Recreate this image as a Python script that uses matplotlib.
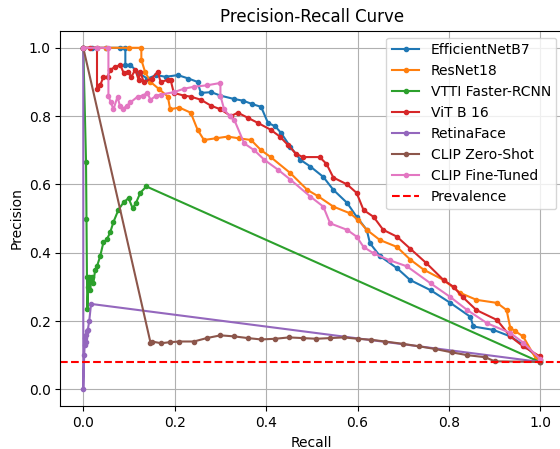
import matplotlib
matplotlib.use("Agg")
import matplotlib.pyplot as plt

# EfficientNetB7
eff_r = [0, 0.02, 0.05, 0.08, 0.092, 0.092, 0.103, 0.12, 0.14, 0.16, 0.18, 0.207, 0.23, 0.25, 0.257,
         0.28, 0.30, 0.33, 0.35, 0.37, 0.389, 0.404, 0.42, 0.433, 0.453, 0.475, 0.497, 0.525, 0.547,
         0.577, 0.598, 0.62, 0.627, 0.649, 0.686, 0.715, 0.76, 0.803, 0.847, 0.853, 0.897, 0.934,
         0.967, 1.0]
eff_p = [1.0, 1.0, 1.0, 1.0, 1.0, 0.95, 0.95, 0.927, 0.91, 0.92, 0.915, 0.92, 0.91, 0.90, 0.868,
         0.87, 0.86, 0.85, 0.845, 0.835, 0.827, 0.78, 0.77, 0.75, 0.71, 0.672, 0.652, 0.622, 0.584,
         0.546, 0.505, 0.467, 0.428, 0.39, 0.355, 0.32, 0.29, 0.253, 0.212, 0.184, 0.174, 0.155,
         0.126, 0.085]

# ResNet18
res_r = [0, 0.05, 0.10, 0.127, 0.127, 0.135, 0.147, 0.165, 0.185, 0.19, 0.21, 0.235, 0.25, 0.264,
         0.29, 0.316, 0.34, 0.367, 0.389, 0.41, 0.453, 0.49, 0.514, 0.547, 0.584, 0.602, 0.62,
         0.649, 0.686, 0.715, 0.745, 0.788, 0.825, 0.86, 0.905, 0.926, 0.934, 0.945, 0.962, 0.99, 1.0]
res_p = [1.0, 1.0, 1.0, 1.0, 0.965, 0.93, 0.90, 0.88, 0.857, 0.82, 0.825, 0.81, 0.76, 0.73,
         0.735, 0.74, 0.735, 0.73, 0.70, 0.68, 0.633, 0.584, 0.565, 0.535, 0.515, 0.495, 0.467,
         0.437, 0.417, 0.38, 0.35, 0.32, 0.282, 0.262, 0.253, 0.232, 0.18, 0.17, 0.155, 0.09, 0.085]

# VTTI Faster-RCNN
vtti_r = [0, 0.006, 0.007, 0.008, 0.009, 0.011, 0.013, 0.015, 0.018, 0.022, 0.026, 0.03, 0.037,
          0.044, 0.052, 0.059, 0.066, 0.077, 0.088, 0.099, 0.108, 0.115, 0.125, 0.138, 1.0]
vtti_p = [1.0, 0.667, 0.50, 0.33, 0.234, 0.30, 0.33, 0.29, 0.33, 0.31, 0.35, 0.36, 0.39,
          0.43, 0.44, 0.46, 0.49, 0.526, 0.547, 0.56, 0.53, 0.545, 0.576, 0.594, 0.079]

# ViT B 16
vit_r = [0, 0.015, 0.03, 0.03, 0.037, 0.044, 0.053, 0.059, 0.07, 0.081, 0.088, 0.097, 0.105, 0.114,
         0.121, 0.125, 0.132, 0.15, 0.163, 0.169, 0.185, 0.191, 0.198, 0.22, 0.235, 0.257, 0.28,
         0.30, 0.323, 0.338, 0.36, 0.382, 0.41, 0.43, 0.448, 0.465, 0.48, 0.517, 0.532, 0.547,
         0.577, 0.598, 0.613, 0.635, 0.656, 0.686, 0.715, 0.75, 0.788, 0.81, 0.83, 0.86, 0.905,
         0.934, 0.962, 0.998]
vit_p = [1.0, 1.0, 1.0, 0.88, 0.89, 0.915, 0.915, 0.936, 0.944, 0.95, 0.927, 0.93, 0.915, 0.936,
         0.906, 0.93, 0.90, 0.91, 0.93, 0.90, 0.906, 0.906, 0.868, 0.86, 0.857, 0.848, 0.83,
         0.82, 0.80, 0.81, 0.795, 0.78, 0.76, 0.74, 0.715, 0.69, 0.68, 0.68, 0.66, 0.62,
         0.60, 0.575, 0.525, 0.505, 0.467, 0.447, 0.412, 0.37, 0.32, 0.30, 0.27, 0.232, 0.203,
         0.155, 0.126, 0.097]

# RetinaFace
ret_r = [0, 0, 0.002, 0.003, 0.004, 0.005, 0.006, 0.008, 0.010, 0.013, 0.017, 1.0]
ret_p = [1.0, 0.0, 0.10, 0.13, 0.15, 0.16, 0.14, 0.17, 0.175, 0.20, 0.25, 0.08]

# CLIP Zero-Shot
zs_r = [0, 0.147, 0.15, 0.17, 0.19, 0.21, 0.242, 0.27, 0.30, 0.33, 0.36, 0.389, 0.42, 0.45, 0.48,
        0.51, 0.54, 0.57, 0.60, 0.63, 0.66, 0.70, 0.734, 0.77, 0.807, 0.84, 0.879, 0.90, 1.0]
zs_p = [1.0, 0.137, 0.14, 0.135, 0.138, 0.14, 0.14, 0.15, 0.158, 0.155, 0.15, 0.146, 0.148, 0.152,
        0.15, 0.148, 0.15, 0.152, 0.148, 0.145, 0.14, 0.133, 0.126, 0.118, 0.108, 0.10, 0.094, 0.082, 0.08]

# CLIP Fine-Tuned
ft_r = [0, 0.03, 0.055, 0.055, 0.06, 0.066, 0.075, 0.08, 0.086, 0.095, 0.103, 0.119, 0.13, 0.14,
        0.147, 0.16, 0.169, 0.198, 0.22, 0.242, 0.27, 0.30, 0.30, 0.308, 0.32, 0.33, 0.352, 0.374,
        0.396, 0.426, 0.453, 0.497, 0.525, 0.54, 0.577, 0.598, 0.613, 0.635, 0.67, 0.708, 0.76,
        0.803, 0.84, 0.884, 0.934, 0.962, 1.0]
ft_p = [1.0, 1.0, 1.0, 0.86, 0.84, 0.82, 0.857, 0.83, 0.82, 0.83, 0.84, 0.857, 0.86, 0.868,
        0.848, 0.86, 0.863, 0.87, 0.88, 0.886, 0.89, 0.897, 0.86, 0.82, 0.80, 0.79, 0.72, 0.70,
        0.672, 0.643, 0.614, 0.564, 0.535, 0.486, 0.467, 0.447, 0.417, 0.398, 0.378, 0.36, 0.31,
        0.27, 0.232, 0.193, 0.165, 0.137, 0.088]

prevalence = 0.08

series = [
    ("EfficientNetB7", eff_r, eff_p),
    ("ResNet18", res_r, res_p),
    ("VTTI Faster-RCNN", vtti_r, vtti_p),
    ("ViT B 16", vit_r, vit_p),
    ("RetinaFace", ret_r, ret_p),
    ("CLIP Zero-Shot", zs_r, zs_p),
    ("CLIP Fine-Tuned", ft_r, ft_p),
]

fig = plt.figure(figsize=(5.6, 4.49), dpi=100)
ax = fig.add_axes([0.1079, 0.0949, 0.898, 0.8367])
for name, r, p in series:
    ax.plot(r, p, marker='.', label=name)
ax.axhline(prevalence, color='r', linestyle='--', label='Prevalence')
ax.set_title("Precision-Recall Curve")
ax.set_xlabel("Recall")
ax.set_ylabel("Precision")
ax.grid(True)
ax.legend(loc='upper right')
fig.savefig("out.png", dpi=100)
